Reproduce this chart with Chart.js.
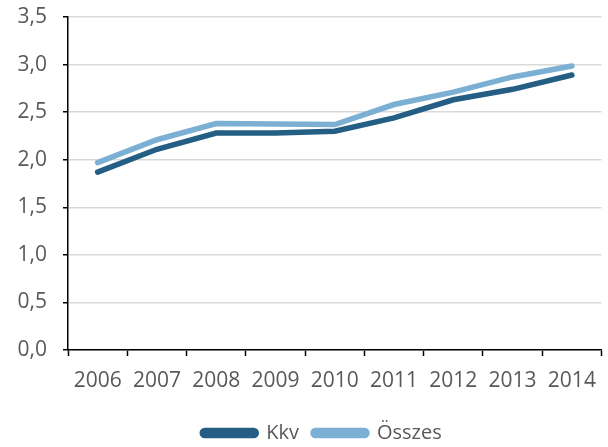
<!DOCTYPE html>
<html>
<head>
<meta charset="utf-8">
<script src="https://cdn.jsdelivr.net/npm/chart.js@4"></script>
<style>
  html, body { margin: 0; padding: 0; background: #fff; }
  #wrap { width: 608px; height: 447px; }
</style>
</head>
<body>
<div id="wrap"><canvas id="lineChart" width="608" height="447"></canvas></div>
<script>
// data
const years = ['2006', '2007', '2008', '2009', '2010', '2011', '2012', '2013', '2014'];
const kkv = [1.87, 2.11, 2.28, 2.28, 2.30, 2.44, 2.63, 2.74, 2.89];
const osszes = [1.97, 2.21, 2.38, 2.375, 2.37, 2.58, 2.71, 2.87, 2.985];

const textColor = '#595959';
const fontFam = '"Open Sans", sans-serif';

// nudge the legend to where it sits in the original
const legendShift = {
    id: 'legendShift',
    afterLayout(chart) {
        const lg = chart.legend;
        lg.left += 19;
        lg.right += 19;
        lg.top = 409;
        lg.bottom = 447;
    }
};

const ctx = document.getElementById('lineChart').getContext('2d');
new Chart(ctx, {
    type: 'line',
    data: {
        labels: years,
        datasets: [{
            label: 'Kkv',
            data: kkv,
            borderColor: '#255e84',
            backgroundColor: '#255e84',
            borderWidth: 5.5,
            borderCapStyle: 'round',
            pointRadius: 0,
            tension: 0
        }, {
            label: 'Összes',
            data: osszes,
            borderColor: '#7bafd4',
            backgroundColor: '#7bafd4',
            borderWidth: 5.5,
            borderCapStyle: 'round',
            pointRadius: 0,
            tension: 0
        }]
    },
    options: {
        responsive: false,
        animation: false,
        layout: {
            padding: { left: 0, right: 2, top: 0, bottom: 0 }
        },
        plugins: {
            tooltip: { enabled: false },
            legend: {
                position: 'bottom',
                maxHeight: 30,
                labels: {
                    color: textColor,
                    font: { family: fontFam, size: 20 },
                    boxWidth: 54,
                    boxHeight: 5,
                    useBorderRadius: true,
                    borderRadius: 2.5,
                    padding: 14
                }
            }
        },
        scales: {
            x: {
                offset: true,
                grid: {
                    offset: true,
                    drawOnChartArea: false,
                    drawTicks: true,
                    tickLength: 6,
                    tickColor: '#000',
                    tickWidth: 1.5
                },
                border: { color: '#000', width: 1.5 },
                ticks: {
                    color: textColor,
                    font: { family: fontFam, size: 21 },
                    maxRotation: 0,
                    padding: 12
                },
                afterFit: function (scale) { scale.height = 67; }
            },
            y: {
                min: 0,
                max: 3.5,
                ticks: {
                    stepSize: 0.5,
                    color: textColor,
                    font: { family: fontFam, size: 21 },
                    padding: 16,
                    callback: function (v) { return v.toFixed(1).replace('.', ','); }
                },
                grid: {
                    color: '#d9d9d9',
                    lineWidth: 1.5,
                    tickLength: 5,
                    tickColor: '#000',
                    tickWidth: 1.5
                },
                border: { color: '#000', width: 1.5 },
                afterFit: function (scale) {
                    scale.width = 68;
                    scale.paddingTop = 17;
                    scale.paddingBottom = 0;
                }
            }
        }
    },
    plugins: [legendShift]
});
</script>
</body>
</html>
